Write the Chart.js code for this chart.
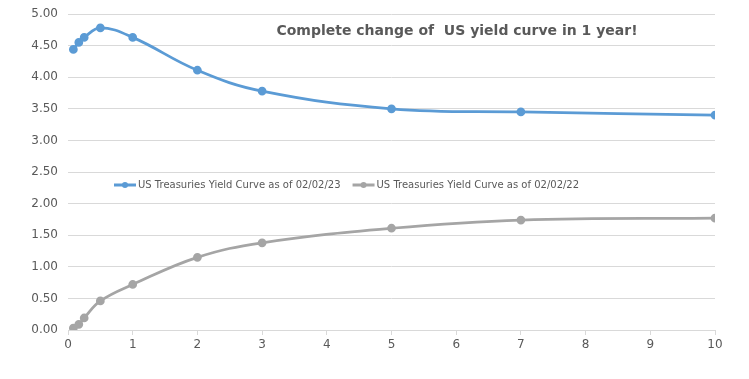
<!DOCTYPE html>
<html><head><meta charset="utf-8">
<script src="https://cdn.jsdelivr.net/npm/chart.js@4/dist/chart.umd.min.js"></script>
<style>html,body{margin:0;padding:0;background:#fff}#wrap{width:749px;height:379px}</style>
</head><body><div id="wrap"><canvas id="c" width="749" height="379"></canvas></div>
<script>
const maturities = [0.083, 0.167, 0.25, 0.5, 1, 2, 3, 5, 7, 10];
const yields2023 = [4.44, 4.55, 4.63, 4.78, 4.63, 4.11, 3.78, 3.50, 3.45, 3.40];
const yields2022 = [0.03, 0.09, 0.19, 0.46, 0.72, 1.15, 1.38, 1.61, 1.74, 1.77];
const seriesNames = ['US Treasuries Yield Curve as of 02/02/23', 'US Treasuries Yield Curve as of 02/02/22'];
const titleText = 'Complete change of  US yield curve in 1 year!';
const xTicks = [0,1,2,3,4,5,6,7,8,9,10];
const yTicks = [0,0.5,1,1.5,2,2.5,3,3.5,4,4.5,5];
const colors = ['#5b9bd5', '#a5a5a5'];
const FONT = '"DejaVu Sans", Verdana, sans-serif';
const TXT = '#595959';

const overlay = {
  id: 'overlay',
  afterDraw(chart) {
    const ctx = chart.ctx;
    ctx.save();
    ctx.fillStyle = TXT;
    ctx.font = 'bold 14px ' + FONT;
    ctx.textAlign = 'center';
    ctx.textBaseline = 'middle';
    ctx.fillText(titleText, 457, 31);
    // legend
    ctx.font = '10px ' + FONT;
    ctx.textAlign = 'left';
    let x = 114;
    const y = 185;
    seriesNames.forEach((n, i) => {
      ctx.strokeStyle = colors[i];
      ctx.lineWidth = 3;
      ctx.beginPath(); ctx.moveTo(x, y); ctx.lineTo(x + 22, y); ctx.stroke();
      ctx.fillStyle = colors[i];
      ctx.beginPath(); ctx.arc(x + 11, y, 3, 0, Math.PI * 2); ctx.fill();
      ctx.fillStyle = TXT;
      ctx.fillText(n, x + 24, y);
      x += 24 + ctx.measureText(n).width + 12;
    });
    ctx.restore();
  }
};

const mk = (i, data) => ({
  label: seriesNames[i],
  data: maturities.map((m, k) => ({x: m, y: data[k]})),
  borderColor: colors[i],
  backgroundColor: colors[i],
  borderWidth: 2.75,
  pointRadius: 3,
  pointHoverRadius: 3,
  tension: 0.4,
  cubicInterpolationMode: 'default',
  fill: false
});

new Chart(document.getElementById('c'), {
  type: 'line',
  data: { datasets: [mk(0, yields2023), mk(1, yields2022)] },
  options: {
    responsive: false,
    animation: false,
    layout: { padding: { top: 1, right: 34, left: 0, bottom: 0 } },
    plugins: { legend: { display: false }, title: { display: false }, tooltip: { enabled: false } },
    scales: {
      x: {
        type: 'linear', min: 0, max: 10,
        afterBuildTicks: s => { s.ticks = xTicks.map(v => ({value: v})); },
        afterFit: s => { s.height = 49; },
        grid: { drawOnChartArea: false, drawTicks: true, tickLength: 5, color: '#d9d9d9' },
        border: { display: true, color: '#d9d9d9', width: 1 },
        ticks: { color: TXT, font: { family: FONT, size: 12 }, padding: 3, maxRotation: 0 }
      },
      y: {
        min: 0, max: 5,
        afterBuildTicks: s => { s.ticks = yTicks.map(v => ({value: v})); },
        afterFit: s => { s.width = 68; s.paddingTop = 14; },
        grid: { color: '#d9d9d9', drawTicks: false },
        border: { display: false },
        ticks: { color: TXT, font: { family: FONT, size: 12 }, padding: 10, callback: v => v.toFixed(2) }
      }
    }
  },
  plugins: [overlay]
});
</script></body></html>
